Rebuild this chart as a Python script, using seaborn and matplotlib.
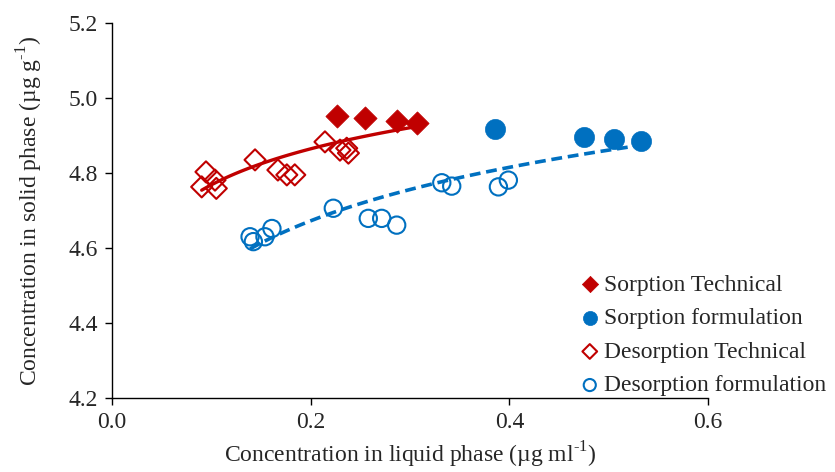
import numpy as np
import pandas as pd
import matplotlib
matplotlib.use("Agg")
import matplotlib.pyplot as plt
import seaborn as sns

# Data
sorp_tech_x = [0.227, 0.255, 0.287, 0.307]
sorp_tech_y = [4.952, 4.947, 4.939, 4.934]

sorp_form_x = [0.386, 0.475, 0.505, 0.533]
sorp_form_y = [4.917, 4.897, 4.891, 4.885]

des_tech_x = [0.0946, 0.0903, 0.1037, 0.105, 0.144, 0.167, 0.176, 0.184, 0.2144, 0.2295, 0.2363, 0.238]
des_tech_y = [4.803, 4.763, 4.781, 4.759, 4.835, 4.808, 4.795, 4.795, 4.883, 4.861, 4.866, 4.853]

des_form_x = [0.139, 0.1423, 0.154, 0.161, 0.2228, 0.258, 0.2715, 0.2866, 0.332, 0.342, 0.389, 0.399]
des_form_y = [4.630, 4.617, 4.630, 4.652, 4.706, 4.679, 4.679, 4.661, 4.774, 4.765, 4.763, 4.781]

x_ticks = [0.0, 0.2, 0.4, 0.6]
y_ticks = [4.2, 4.4, 4.6, 4.8, 5.0, 5.2]

RED = "#C00000"
BLUE = "#0070C0"
FS = 17

sns.set_style("white")
plt.rcParams["font.family"] = ["Liberation Serif", "DejaVu Serif"]
plt.rcParams["mathtext.fontset"] = "custom"
plt.rcParams["mathtext.rm"] = "Liberation Serif"

fig = plt.figure(figsize=(8.35, 4.72), dpi=100)
ax = fig.add_axes([112 / 835, 1 - 398 / 472, (708 - 112) / 835, (398 - 23) / 472])

# Logarithmic trendlines (fit to combined sorption + desorption data)
def log_trend(xs, ys):
    xs = np.asarray(xs)
    ys = np.asarray(ys)
    b, a = np.polyfit(np.log(xs), ys, 1)
    xx = np.linspace(xs.min(), xs.max(), 100)
    return xx, a + b * np.log(xx)

tx, ty = log_trend(sorp_tech_x + des_tech_x, sorp_tech_y + des_tech_y)
fx, fy = log_trend(sorp_form_x + des_form_x, sorp_form_y + des_form_y)

sns.lineplot(x=tx, y=ty, ax=ax, color=RED, linewidth=2.4, legend=False, zorder=2)
sns.lineplot(x=fx, y=fy, ax=ax, color=BLUE, linewidth=2.6, linestyle=(0, (3, 1.6)), legend=False, zorder=2)

sns.scatterplot(x=sorp_tech_x, y=sorp_tech_y, ax=ax, marker="D", s=140, color=RED,
                edgecolor=RED, linewidth=0.5, label="Sorption Technical", zorder=3)
sns.scatterplot(x=sorp_form_x, y=sorp_form_y, ax=ax, marker="o", s=210, color=BLUE,
                edgecolor=BLUE, linewidth=0.5, label="Sorption formulation", zorder=3)
sns.scatterplot(x=des_tech_x, y=des_tech_y, ax=ax, marker="D", s=115, facecolor="none",
                edgecolor=RED, linewidth=1.5, label="Desorption Technical", zorder=3)
sns.scatterplot(x=des_form_x, y=des_form_y, ax=ax, marker="o", s=155, facecolor="none",
                edgecolor=BLUE, linewidth=1.5, label="Desorption formulation", zorder=3)

ax.set_xlim(0, 0.6)
ax.set_ylim(4.2, 5.2)
ax.set_xticks(x_ticks)
ax.set_yticks(y_ticks)
ax.set_xticklabels([f"{v:.1f}" for v in x_ticks], fontsize=FS)
ax.set_yticklabels([f"{v:.1f}" for v in y_ticks], fontsize=FS)
ax.tick_params(axis="both", direction="out", length=5, width=1, color="black",
               bottom=True, left=True, pad=5)
for side in ["top", "right"]:
    ax.spines[side].set_visible(False)
for side in ["left", "bottom"]:
    ax.spines[side].set_color("black")
    ax.spines[side].set_linewidth(1.0)

ax.set_xlabel(r"Concentration in liquid phase (µg ml$^{\text{-1}}$)", fontsize=FS, labelpad=5)
ax.set_ylabel(r"Concentration in solid phase (µg g$^{\text{-1}}$)", fontsize=FS, labelpad=17)

handles, labels = ax.get_legend_handles_labels()
leg = fig.legend(handles, labels, loc="center left", bbox_to_anchor=(0.695, 0.29),
                 frameon=False, fontsize=FS, handlelength=0.8, handletextpad=0.2,
                 labelspacing=0.51, markerscale=0.7, borderpad=0, borderaxespad=0)
if ax.get_legend():
    ax.get_legend().remove()

fig.savefig("out.png", dpi=100)
